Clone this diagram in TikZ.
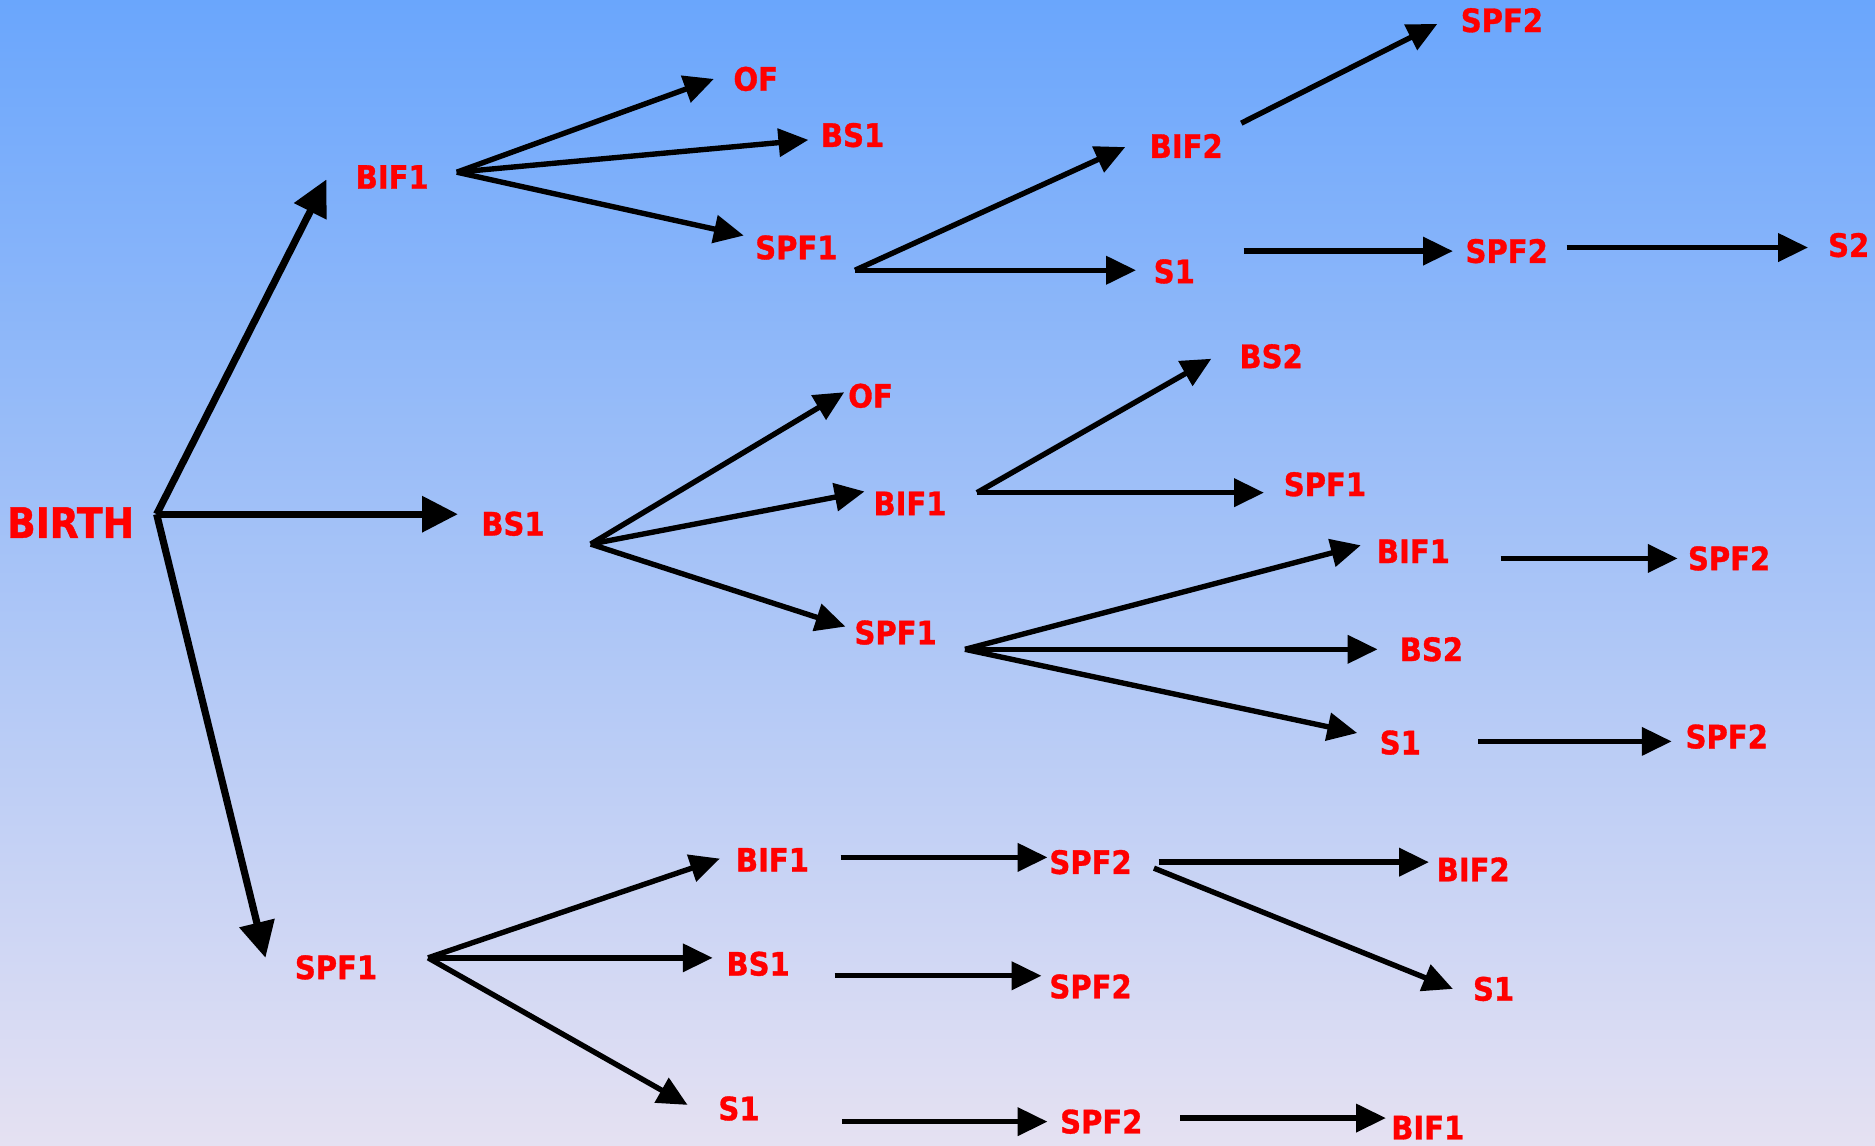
\documentclass[tikz,border=0pt]{standalone}
\usepackage{fontspec}
\newfontfamily\labfont{DejaVu Sans Condensed}[BoldFeatures={FakeBold=1}]
\usetikzlibrary{arrows.meta}
\definecolor{bgtop}{RGB}{106,166,252}
\definecolor{bgbot}{RGB}{229,225,242}
\definecolor{labred}{RGB}{255,0,0}
\tikzset{
  lab/.style={text=labred, inner sep=0pt, font=\labfont\bfseries\fontsize{27}{32}\selectfont},
  biglab/.style={lab, font=\labfont\bfseries\fontsize{35}{40}\selectfont},
  arr/.style={draw=black, line width=4.5pt, -{Triangle[length=25pt,width=23pt]}},
  bigarr/.style={draw=black, line width=6pt, -{Triangle[length=30pt,width=29pt]}}
}
\begin{document}
\begin{tikzpicture}[x=1pt,y=-1pt]
\shade[top color=bgtop, bottom color=bgbot] (0,0) rectangle (1568,958);
\useasboundingbox (0,0) rectangle (1568,958);
% labels
\node[biglab] (birth) at (59,437) {BIRTH};
\node[lab] (bif1a) at (328,148) {BIF1};
\node[lab] (bs1a) at (429,438) {BS1};
\node[lab] (spf1a) at (281,809) {SPF1};
\node[lab] (ofa) at (632,66) {OF};
\node[lab] (bs1b) at (713,113) {BS1};
\node[lab] (spf1b) at (666,207) {SPF1};
\node[lab] (bif2a) at (992,122) {BIF2};
\node[lab] (s1a) at (982,227) {S1};
\node[lab] (spf2a) at (1256,17) {SPF2};
\node[lab] (spf2b) at (1260,210) {SPF2};
\node[lab] (s2) at (1546,205) {S2};
\node[lab] (ofb) at (728,331) {OF};
\node[lab] (bif1b) at (761,421) {BIF1};
\node[lab] (spf1c) at (749,529) {SPF1};
\node[lab] (bs2a) at (1063,298) {BS2};
\node[lab] (spf1d) at (1108,405) {SPF1};
\node[lab] (bif1c) at (1182,461) {BIF1};
\node[lab] (bs2b) at (1197,543) {BS2};
\node[lab] (s1b) at (1171,621) {S1};
\node[lab] (spf2c) at (1446,467) {SPF2};
\node[lab] (spf2d) at (1444,616) {SPF2};
\node[lab] (bif1d) at (646,719) {BIF1};
\node[lab] (bs1c) at (634,806) {BS1};
\node[lab] (s1c) at (618,927) {S1};
\node[lab] (spf2e) at (912,721) {SPF2};
\node[lab] (spf2f) at (912,825) {SPF2};
\node[lab] (spf2g) at (921,938) {SPF2};
\node[lab] (bif2b) at (1232,727) {BIF2};
\node[lab] (s1d) at (1249,827) {S1};
\node[lab] (bif1e) at (1194,943) {BIF1};
% connector ends
\coordinate (birth-o) at (131,430);
\coordinate (bif1a-i) at (273,150);
\coordinate (bs1a-i) at (383,430);
\coordinate (spf1a-i) at (222,801);
\coordinate (bif1a-o) at (382,144);
\coordinate (ofa-i) at (597,66);
\coordinate (bs1b-i) at (676,117);
\coordinate (spf1b-i) at (622,197);
\coordinate (spf1b-o) at (715,226);
\coordinate (bif2a-i) at (941,123);
\coordinate (s1a-i) at (950,226);
\coordinate (bif2a-o) at (1038,103);
\coordinate (spf2a-i) at (1202,20);
\coordinate (s1a-o) at (1040,210);
\coordinate (spf2b-i) at (1215,210);
\coordinate (spf2b-o) at (1310,207);
\coordinate (s2-i) at (1512,207);
\coordinate (bs1a-o) at (494,455);
\coordinate (ofb-i) at (706,328);
\coordinate (bif1b-i) at (723,411);
\coordinate (spf1c-i) at (707,524);
\coordinate (bif1b-o) at (817,412);
\coordinate (bs2a-i) at (1013,300);
\coordinate (spf1d-i) at (1057,412);
\coordinate (spf1c-o) at (807,543);
\coordinate (bif1c-i) at (1138,456);
\coordinate (bs2b-i) at (1152,543);
\coordinate (s1b-i) at (1135,613);
\coordinate (bif1c-o) at (1255,467);
\coordinate (spf2c-i) at (1403,467);
\coordinate (s1b-o) at (1236,620);
\coordinate (spf2d-i) at (1398,620);
\coordinate (spf1a-o) at (358,801);
\coordinate (bif1d-i) at (602,718);
\coordinate (bs1c-i) at (596,801);
\coordinate (s1c-i) at (575,924);
\coordinate (bif1d-o) at (703,717);
\coordinate (spf2e-i) at (876,717);
\coordinate (bs1c-o) at (698,816);
\coordinate (spf2f-i) at (871,816);
\coordinate (s1c-o) at (704,938);
\coordinate (spf2g-i) at (876,938);
\coordinate (spf2e-o) at (969,721);
\coordinate (bif2b-i) at (1195,721);
\coordinate (spf2e-o2) at (965,726);
\coordinate (s1d-i) at (1215,827);
\coordinate (spf2g-o) at (987,935);
\coordinate (bif1e-i) at (1159,935);
% connectors
\draw[bigarr] (birth-o) -- (bif1a-i);
\draw[bigarr] (birth-o) -- (bs1a-i);
\draw[bigarr] (birth-o) -- (spf1a-i);
\draw[arr] (bif1a-o) -- (ofa-i);
\draw[arr] (bif1a-o) -- (bs1b-i);
\draw[arr] (bif1a-o) -- (spf1b-i);
\draw[arr] (spf1b-o) -- (bif2a-i);
\draw[arr] (spf1b-o) -- (s1a-i);
\draw[arr] (bif2a-o) -- (spf2a-i);
\draw[arr] (s1a-o) -- (spf2b-i);
\draw[arr] (spf2b-o) -- (s2-i);
\draw[arr] (bs1a-o) -- (ofb-i);
\draw[arr] (bs1a-o) -- (bif1b-i);
\draw[arr] (bs1a-o) -- (spf1c-i);
\draw[arr] (bif1b-o) -- (bs2a-i);
\draw[arr] (bif1b-o) -- (spf1d-i);
\draw[arr] (spf1c-o) -- (bif1c-i);
\draw[arr] (spf1c-o) -- (bs2b-i);
\draw[arr] (spf1c-o) -- (s1b-i);
\draw[arr] (bif1c-o) -- (spf2c-i);
\draw[arr] (s1b-o) -- (spf2d-i);
\draw[arr] (spf1a-o) -- (bif1d-i);
\draw[arr] (spf1a-o) -- (bs1c-i);
\draw[arr] (spf1a-o) -- (s1c-i);
\draw[arr] (bif1d-o) -- (spf2e-i);
\draw[arr] (bs1c-o) -- (spf2f-i);
\draw[arr] (s1c-o) -- (spf2g-i);
\draw[arr] (spf2e-o) -- (bif2b-i);
\draw[arr] (spf2e-o2) -- (s1d-i);
\draw[arr] (spf2g-o) -- (bif1e-i);
\end{tikzpicture}
\end{document}
